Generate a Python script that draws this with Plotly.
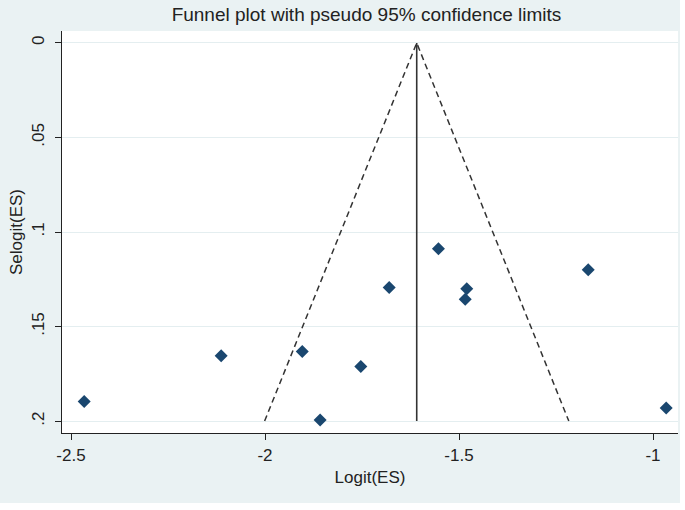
import plotly.graph_objects as go

logit_es = [-2.466, -2.113, -1.904, -1.753, -1.858, -1.680, -1.553, -1.480, -1.484, -1.167, -0.966]
selogit_es = [0.1897, 0.1654, 0.1632, 0.1711, 0.1994, 0.1293, 0.1089, 0.1300, 0.1355, 0.1200, 0.1931]
pooled = -1.609
se_max = 0.2
z = 1.96

y_ticks = [0, 0.05, 0.1, 0.15, 0.2]
y_ticklabels = ["0", ".05", ".1", ".15", ".2"]
x_ticks = [-2.5, -2, -1.5, -1]
x_ticklabels = ["-2.5", "-2", "-1.5", "-1"]

fig = go.Figure()
# funnel limits
fig.add_trace(go.Scatter(
    x=[pooled - z * se_max, pooled, pooled + z * se_max],
    y=[se_max, 0, se_max],
    mode="lines", line=dict(color="#333333", width=1.5, dash="6px,4px"),
    showlegend=False, hoverinfo="skip"))
# pooled estimate
fig.add_trace(go.Scatter(
    x=[pooled, pooled], y=[0, se_max],
    mode="lines", line=dict(color="#333333", width=1.6),
    showlegend=False, hoverinfo="skip"))
# studies
fig.add_trace(go.Scatter(
    x=logit_es, y=selogit_es, mode="markers",
    marker=dict(symbol="diamond", size=10, color="#1a476f"),
    showlegend=False))

fig.update_layout(
    width=680, height=503,
    margin=dict(l=62, r=2, t=31, b=70),
    paper_bgcolor="#eaf2f3", plot_bgcolor="white",
    font=dict(family="Liberation Sans, Arial, sans-serif", size=17, color="#222222"),
    title=dict(text="Funnel plot with pseudo 95% confidence limits",
               x=366.5 / 680, xanchor="center", y=1 - 14 / 503, yanchor="middle",
               font=dict(size=19, color="#222222")),
)
fig.update_xaxes(
    range=[-2.5232, -0.9356], tickvals=x_ticks, ticktext=x_ticklabels,
    showgrid=False, zeroline=False, showline=True, linecolor="#222222", linewidth=1.4,
    ticks="outside", ticklen=6, tickcolor="#222222", tickwidth=1.4,
    tickfont=dict(size=17),
    title=dict(text="Logit(ES)", font=dict(size=17), standoff=7))
fig.update_yaxes(
    range=[0.2063, -0.0063], tickvals=y_ticks, ticktext=y_ticklabels, tickangle=-90,
    showgrid=True, gridcolor="#e4eef0", gridwidth=1, zeroline=False,
    showline=True, linecolor="#222222", linewidth=1.4,
    ticks="outside", ticklen=6, tickcolor="#222222", tickwidth=1.4,
    tickfont=dict(size=17), ticklabelstandoff=4,
    title=dict(text="Selogit(ES)", font=dict(size=17), standoff=2))

fig.write_html("out.html", config={"displayModeBar": False},
               post_script="document.body.style.margin='0';")
